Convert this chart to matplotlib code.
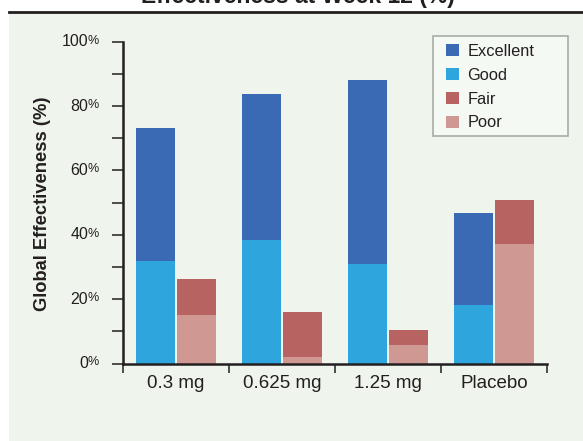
import matplotlib
matplotlib.use('Agg')
import matplotlib.pyplot as plt
from matplotlib.patches import Rectangle, Patch
from matplotlib.lines import Line2D
import numpy as np

plt.rcParams['font.family'] = ['Liberation Sans', 'DejaVu Sans']

# data (percent of patients)
doses = ['0.3 mg', '0.625 mg', '1.25 mg', 'Placebo']
good = [31.9, 38.4, 30.9, 18.2]
excellent = [41.3, 45.4, 57.3, 28.5]
poor = [15.1, 2.0, 5.7, 37.2]
fair = [11.2, 14.0, 4.7, 13.6]
yticks = [0, 20, 40, 60, 80, 100]

c_exc = '#3a6ab4'
c_good = '#2ea5dd'
c_fair = '#b66361'
c_poor = '#cf9892'
bg = '#eff5ec'
ink = '#231f20'

W, H = 583, 441
fig = plt.figure(figsize=(W / 100, H / 100), dpi=100)
fig.patch.set_facecolor('white')

# green panel and black rule under the (clipped) title
fig.add_artist(Rectangle((9 / W, 0), 1 - 9 / W, 1 - 12 / H, transform=fig.transFigure,
                         facecolor=bg, edgecolor='none', zorder=0))
fig.add_artist(Line2D([9 / W, 1], [1 - 11.5 / H, 1 - 11.5 / H], transform=fig.transFigure,
                      color=ink, lw=2.0))
fig.text(298 / W, 1 - 3 / H, 'Effectiveness at Week 12 (%)', ha='center', va='baseline',
         fontsize=16.5, fontweight='bold', color=ink)

ax = fig.add_axes([123 / W, 1 - 363.5 / H, 424 / W, 321.8 / H])
ax.set_facecolor('none')

x = np.arange(len(doses))
bw = 0.36
off = 0.194
ax.bar(x - off, good, bw, color=c_good, zorder=2)
ax.bar(x - off, excellent, bw, bottom=good, color=c_exc, zorder=2)
ax.bar(x + off, poor, bw, color=c_poor, zorder=2)
ax.bar(x + off, fair, bw, bottom=poor, color=c_fair, zorder=2)

ax.set_xlim(-0.5, len(doses) - 0.5)
ax.set_ylim(0, 100)

for s in ['top', 'right']:
    ax.spines[s].set_visible(False)
for s in ['left', 'bottom']:
    ax.spines[s].set_linewidth(1.8)
    ax.spines[s].set_color(ink)

# x: tick marks at group borders, labels at group centres
ax.set_xticks(np.arange(len(doses) + 1) - 0.5)
ax.set_xticklabels([])
ax.set_xticks(x, minor=True)
ax.set_xticklabels(doses, minor=True, fontsize=13.5, color=ink)
ax.tick_params(axis='x', which='major', direction='out', length=6.5, width=1.1, color=ink)
ax.tick_params(axis='x', which='minor', length=0, pad=8)

# y: major + minor marks, labels drawn by hand (small % sign)
ax.set_yticks(yticks)
ax.set_yticks(np.arange(10, 100, 20), minor=True)
ax.set_yticklabels([])
ax.tick_params(axis='y', which='both', direction='out', length=8, width=1.1, color=ink)
tr = ax.get_yaxis_transform()
for v in yticks:
    ax.annotate(str(v), (0, v), xycoords=tr, xytext=(-35 * 0.72, 0), textcoords='offset points',
                ha='right', va='center', fontsize=11.5, color=ink)
    ax.annotate('%', (0, v), xycoords=tr, xytext=(-35.8 * 0.72, 0.8), textcoords='offset points',
                ha='left', va='center', fontsize=9, color=ink)

fig.text(43 / W, 1 - 204 / H, 'Global Effectiveness (%)', rotation=90, ha='center',
         va='center', fontsize=13.2, fontweight='bold', color=ink)

# legend: hand-drawn frame, frameless legend inside it
fig.add_artist(Rectangle((433 / W, 1 - 136 / H), 135 / W, 100 / H, transform=fig.transFigure,
                         facecolor='#f5f9f3', edgecolor='#a8aca6', lw=1.2, zorder=3))
handles = [Patch(facecolor=c_exc), Patch(facecolor=c_good),
           Patch(facecolor=c_fair), Patch(facecolor=c_poor)]
leg = fig.legend(handles, ['Excellent', 'Good', 'Fair', 'Poor'],
                 loc='upper left', bbox_to_anchor=(441 / W, 1 - 39 / H), fontsize=11.8,
                 frameon=False, handlelength=0.8, handleheight=0.8,
                 handletextpad=0.5, labelspacing=0.54, borderpad=0.3, borderaxespad=0)
leg.set_zorder(4)
for t in leg.get_texts():
    t.set_color(ink)

fig.savefig('out.png', dpi=100)
